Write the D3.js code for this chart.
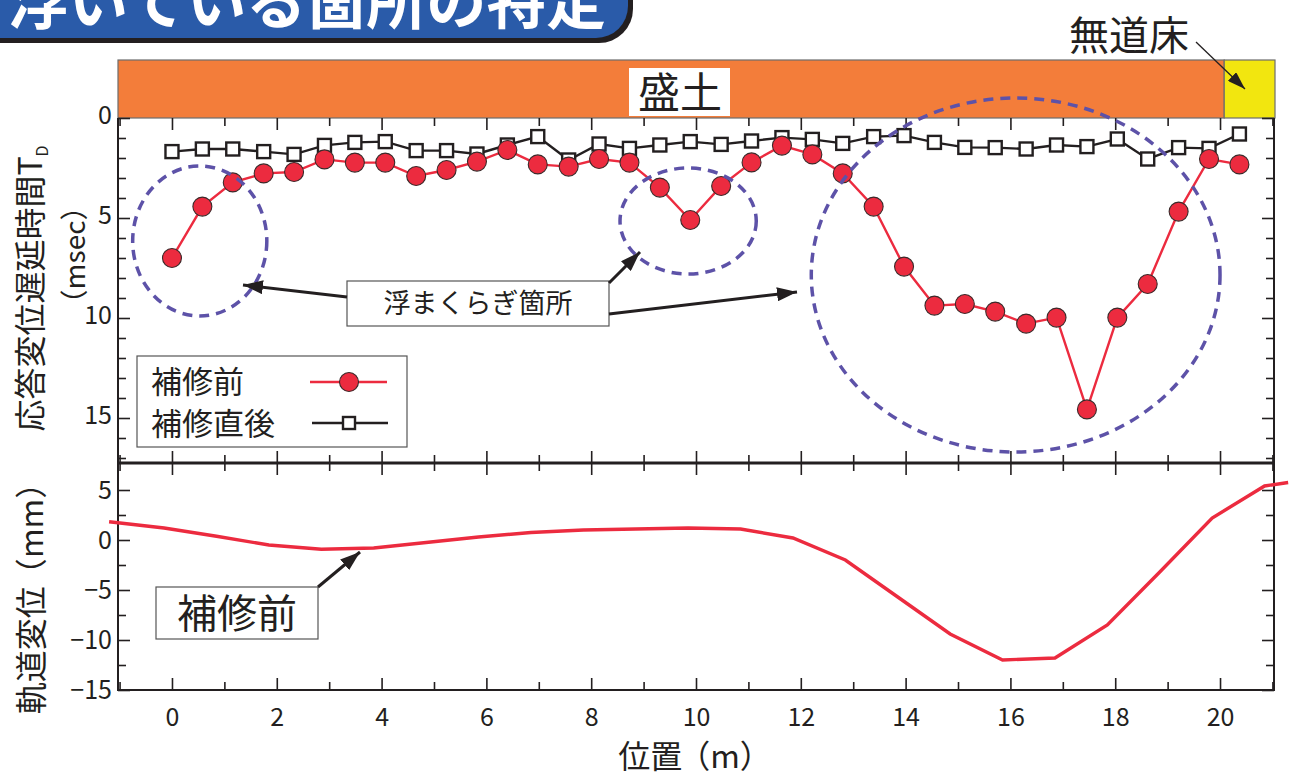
<!DOCTYPE html>
<html>
<head>
<meta charset="utf-8">
<script src="https://cdn.jsdelivr.net/npm/d3@7"></script>
<style>
  body { margin: 0; background: #fff; }
  svg { display: block; font-family: "Noto Sans CJK JP", "Noto Sans", sans-serif; }
</style>
</head>
<body>
<svg id="chart" width="1296" height="778"></svg>
<script>
// sensor positions (m)
const positions = [0, 0.58, 1.16, 1.75, 2.33, 2.91, 3.49, 4.07, 4.66, 5.24, 5.82, 6.40,
  6.98, 7.57, 8.15, 8.73, 9.31, 9.89, 10.48, 11.06, 11.64, 12.22, 12.80, 13.39,
  13.97, 14.55, 15.13, 15.71, 16.30, 16.88, 17.46, 18.04, 18.62, 19.21, 19.79, 20.37];

// response delay time T_D (msec)
const beforeRepair = [7.0, 4.43, 3.22, 2.77, 2.7, 2.07, 2.23, 2.23, 2.9, 2.6, 2.18, 1.6,
  2.32, 2.43, 2.05, 2.23, 3.48, 5.1, 3.4, 2.22, 1.38, 1.82, 2.77, 4.43,
  7.43, 9.38, 9.3, 9.68, 10.28, 9.98, 14.57, 9.98, 8.3, 4.68, 2.05, 2.32];
const afterRepair = [1.68, 1.55, 1.55, 1.68, 1.82, 1.37, 1.22, 1.18, 1.63, 1.63, 1.8, 1.35,
  0.93, 2.1, 1.3, 1.52, 1.35, 1.18, 1.32, 1.15, 0.98, 1.07, 1.27, 0.93,
  0.88, 1.22, 1.47, 1.48, 1.55, 1.35, 1.43, 1.05, 2.05, 1.48, 1.52, 0.8];

// track displacement before repair (mm)
const trackX = [-1.2, -0.15, 0.85, 1.85, 2.85, 3.85, 4.85, 5.85, 6.85, 7.85, 8.85, 9.85,
  10.85, 11.85, 12.85, 13.85, 14.85, 15.85, 16.85, 17.85, 18.85, 19.85, 20.85, 21.3];
const trackY = [1.83, 1.2, 0.37, -0.5, -0.93, -0.8, -0.25, 0.3, 0.75, 1.0, 1.1, 1.2,
  1.1, 0.2, -2.0, -5.7, -9.4, -12.0, -11.8, -8.5, -3.2, 2.2, 5.4, 5.75];

const xTicks = [0, 2, 4, 6, 8, 10, 12, 14, 16, 18, 20];
const topTicks = [0, 5, 10, 15];
const bottomTicks = [5, 0, -5, -10, -15];
const zoneBoundary = 20.08; // 盛土 / 無道床

// floating sleeper areas (data units)
const floatAreas = [
  { cx: 0.53, cy: 6.15, rx: 1.28, ry: 3.75 },
  { cx: 9.85, cy: 5.15, rx: 1.3, ry: 2.65 },
  { cx: 16.1, cy: 7.85, rx: 3.9, ry: 8.85 }
];

const left = 118, right = 1274;
const topY0 = 118, midY = 463, botY = 690;

const svg = d3.select("#chart");

const x = d3.scaleLinear().domain([-1.03, 21.03]).range([left, right]);
const yTop = d3.scaleLinear().domain([0, 17.25]).range([topY0, midY]);
const yBot = d3.scaleLinear().domain([-15, 7.7]).range([botY, midY]);

const red = "#ec2b3f";
const ink = "#231f20";

const defs = svg.append("defs");
defs.append("marker")
  .attr("id", "head")
  .attr("viewBox", "0 0 20 14")
  .attr("refX", 20).attr("refY", 7)
  .attr("markerWidth", 20).attr("markerHeight", 14)
  .attr("markerUnits", "userSpaceOnUse")
  .attr("orient", "auto")
  .append("path").attr("d", "M0,0 L20,7 L0,14 z").attr("fill", ink);
defs.append("marker")
  .attr("id", "headSmall")
  .attr("viewBox", "0 0 18 12")
  .attr("refX", 18).attr("refY", 6)
  .attr("markerWidth", 18).attr("markerHeight", 12)
  .attr("markerUnits", "userSpaceOnUse")
  .attr("orient", "auto")
  .append("path").attr("d", "M0,0 L18,6 L0,12 z").attr("fill", ink);

// title bar (cut at the top of the picture)
svg.append("rect").attr("x", -40).attr("y", -40).attr("width", 673).attr("height", 83)
  .attr("rx", 34).attr("fill", ink);
svg.append("rect").attr("x", -40).attr("y", -40).attr("width", 668).attr("height", 78)
  .attr("rx", 32).attr("fill", "#2a5ba9");
svg.append("text").attr("x", 8).attr("y", 24)
  .attr("font-size", 60).attr("font-weight", 700).attr("fill", "#fff")
  .text("浮いている箇所の特定");

// zone bar
svg.append("rect").attr("x", x(-1.03)).attr("y", 60)
  .attr("width", x(zoneBoundary) - x(-1.03)).attr("height", topY0 - 60)
  .attr("fill", "#f37d3a").attr("stroke", "#6d6d6d").attr("stroke-width", 1.2);
svg.append("rect").attr("x", x(zoneBoundary)).attr("y", 60)
  .attr("width", x(21.03) - x(zoneBoundary) + 1).attr("height", topY0 - 60)
  .attr("fill", "#f2e60f").attr("stroke", "#6d6d6d").attr("stroke-width", 1.2);
svg.append("rect").attr("x", 629).attr("y", 68).attr("width", 101).attr("height", 48).attr("fill", "#fff");
svg.append("text").attr("x", 680).attr("y", 108).attr("text-anchor", "middle")
  .attr("font-size", 42).attr("fill", ink).text("盛土");
svg.append("text").attr("x", 1129).attr("y", 50).attr("text-anchor", "middle")
  .attr("font-size", 40).attr("fill", ink).text("無道床");
svg.append("line").attr("x1", 1196).attr("y1", 42).attr("x2", 1245).attr("y2", 89)
  .attr("stroke", ink).attr("stroke-width", 1.3).attr("marker-end", "url(#headSmall)");

// axes helper
function drawAxis(axis, tx, ty, labels) {
  const g = svg.append("g").attr("transform", `translate(${tx},${ty})`).call(axis);
  g.select(".domain").remove();
  g.selectAll(".tick line").attr("stroke", ink).attr("stroke-width", 1.6);
  g.selectAll(".tick text").attr("fill", ink).attr("font-size", 25)
    .attr("font-family", "'Noto Sans CJK JP', sans-serif");
  if (!labels) g.selectAll(".tick text").remove();
  return g;
}

const xMinor = d3.range(-1, 22).filter(v => v % 2 !== 0);

// top panel ticks
drawAxis(d3.axisTop(x).tickValues(xTicks).tickSize(-12), 0, topY0, false);
drawAxis(d3.axisTop(x).tickValues(xMinor).tickSize(-8), 0, topY0, false);
drawAxis(d3.axisBottom(x).tickValues(xTicks).tickSize(-12), 0, midY, false);
drawAxis(d3.axisBottom(x).tickValues(xMinor).tickSize(-8), 0, midY, false);
drawAxis(d3.axisLeft(yTop).tickValues(topTicks).tickSize(-12).tickPadding(6), left, 0, true)
  .selectAll(".tick text").attr("dy", "0.2em");
drawAxis(d3.axisLeft(yTop).tickValues(d3.range(1, 18).filter(v => v % 5 !== 0)).tickSize(-8), left, 0, false);
drawAxis(d3.axisRight(yTop).tickValues(topTicks).tickSize(-12), right, 0, false);
drawAxis(d3.axisRight(yTop).tickValues(d3.range(1, 18).filter(v => v % 5 !== 0)).tickSize(-8), right, 0, false);

// bottom panel ticks
drawAxis(d3.axisTop(x).tickValues(xTicks).tickSize(-12), 0, midY, false);
drawAxis(d3.axisTop(x).tickValues(xMinor).tickSize(-8), 0, midY, false);
drawAxis(d3.axisBottom(x).tickValues(xTicks).tickSize(-12).tickPadding(18), 0, botY, true);
drawAxis(d3.axisBottom(x).tickValues(xMinor).tickSize(-8), 0, botY, false);
const botMinor = [2.5, -2.5, -7.5, -12.5];
drawAxis(d3.axisLeft(yBot).tickValues(bottomTicks).tickSize(-12).tickPadding(6), left, 0, true);
drawAxis(d3.axisLeft(yBot).tickValues(botMinor).tickSize(-8), left, 0, false);
drawAxis(d3.axisRight(yBot).tickValues(bottomTicks).tickSize(-12), right, 0, false);
drawAxis(d3.axisRight(yBot).tickValues(botMinor).tickSize(-8), right, 0, false);

// frame
svg.append("line").attr("x1", left).attr("x2", left).attr("y1", topY0).attr("y2", botY + 1)
  .attr("stroke", ink).attr("stroke-width", 2);
svg.append("line").attr("x1", right).attr("x2", right).attr("y1", topY0).attr("y2", botY + 1)
  .attr("stroke", ink).attr("stroke-width", 2);
svg.append("line").attr("x1", left).attr("x2", right).attr("y1", midY).attr("y2", midY)
  .attr("stroke", ink).attr("stroke-width", 3);
svg.append("line").attr("x1", left).attr("x2", right).attr("y1", botY).attr("y2", botY)
  .attr("stroke", ink).attr("stroke-width", 2);

// axis titles
svg.append("text")
  .attr("transform", `translate(42,${(yTop(0) + yTop(17.25)) / 2 - 2}) rotate(-90)`)
  .attr("text-anchor", "middle").attr("font-size", 32).attr("fill", ink)
  .html('応答変位遅延時間T<tspan font-size="16" dy="6">D</tspan>');
svg.append("text")
  .attr("transform", `translate(85,255) rotate(-90)`)
  .attr("text-anchor", "middle").attr("font-size", 28).attr("fill", ink)
  .text("（msec）");
svg.append("text")
  .attr("transform", `translate(43,${(midY + botY) / 2 + 14}) rotate(-90)`)
  .attr("text-anchor", "middle").attr("font-size", 32).attr("fill", ink)
  .html('軌道変位<tspan dx="-4">（mm）</tspan>');
svg.append("text").attr("x", 695).attr("y", 768).attr("text-anchor", "middle")
  .attr("font-size", 32).attr("fill", ink)
  .html('位置<tspan dx="-4">（m）</tspan>');

// series
const before = positions.map((p, i) => ({ x: p, y: beforeRepair[i] }));
const after = positions.map((p, i) => ({ x: p, y: afterRepair[i] }));
const lineTop = d3.line().x(d => x(d.x)).y(d => yTop(d.y));

svg.append("path").datum(after).attr("d", lineTop)
  .attr("fill", "none").attr("stroke", ink).attr("stroke-width", 2.4);
svg.append("path").datum(before).attr("d", lineTop)
  .attr("fill", "none").attr("stroke", red).attr("stroke-width", 2.4);

svg.selectAll(".sq").data(after).enter().append("rect")
  .attr("class", "sq")
  .attr("x", d => x(d.x) - 6.5).attr("y", d => yTop(d.y) - 6.5)
  .attr("width", 13).attr("height", 13)
  .attr("fill", "#fff").attr("stroke", ink).attr("stroke-width", 2.4);
svg.selectAll(".dot").data(before).enter().append("circle")
  .attr("class", "dot")
  .attr("cx", d => x(d.x)).attr("cy", d => yTop(d.y)).attr("r", 9.5)
  .attr("fill", red).attr("stroke", "#3a2a2a").attr("stroke-width", 1.1);

// floating sleeper ellipses
svg.selectAll(".area").data(floatAreas).enter().append("ellipse")
  .attr("class", "area")
  .attr("cx", d => x(d.cx)).attr("cy", d => yTop(d.cy))
  .attr("rx", d => x(d.rx) - x(0)).attr("ry", d => yTop(d.ry) - yTop(0))
  .attr("fill", "none").attr("stroke", "#5d52a8").attr("stroke-width", 3.5)
  .attr("stroke-dasharray", "10 7");

// annotation box
svg.append("rect").attr("x", 347).attr("y", 281).attr("width", 262).attr("height", 45)
  .attr("fill", "#fff").attr("stroke", "#555").attr("stroke-width", 1.2);
svg.append("text").attr("x", 478).attr("y", 313).attr("text-anchor", "middle")
  .attr("font-size", 27).attr("fill", ink).text("浮まくらぎ箇所");
[[347, 297, 243, 285], [609, 283, 640, 252], [609, 314, 797, 292]].forEach(a => {
  svg.append("line").attr("x1", a[0]).attr("y1", a[1]).attr("x2", a[2]).attr("y2", a[3])
    .attr("stroke", ink).attr("stroke-width", 3).attr("marker-end", "url(#head)");
});

// legend
svg.append("rect").attr("x", 137).attr("y", 356).attr("width", 270).attr("height", 91)
  .attr("fill", "#fff").attr("stroke", "#555").attr("stroke-width", 1.2);
svg.append("text").attr("x", 151).attr("y", 393).attr("font-size", 31).attr("fill", ink).text("補修前");
svg.append("text").attr("x", 151).attr("y", 435).attr("font-size", 31).attr("fill", ink).text("補修直後");
svg.append("line").attr("x1", 310).attr("x2", 387).attr("y1", 382).attr("y2", 382)
  .attr("stroke", red).attr("stroke-width", 2.4);
svg.append("circle").attr("cx", 349).attr("cy", 382).attr("r", 9.5)
  .attr("fill", red).attr("stroke", "#3a2a2a").attr("stroke-width", 1.1);
svg.append("line").attr("x1", 312).attr("x2", 388).attr("y1", 423).attr("y2", 423)
  .attr("stroke", ink).attr("stroke-width", 2.4);
svg.append("rect").attr("x", 343).attr("y", 417).attr("width", 12).attr("height", 12)
  .attr("fill", "#fff").attr("stroke", ink).attr("stroke-width", 2.4);

// track displacement line
const track = trackX.map((v, i) => ({ x: v, y: trackY[i] }));
svg.append("path").datum(track)
  .attr("d", d3.line().x(d => x(d.x)).y(d => yBot(d.y)))
  .attr("fill", "none").attr("stroke", red).attr("stroke-width", 3.4);

svg.append("rect").attr("x", 156).attr("y", 587).attr("width", 162).attr("height", 52)
  .attr("fill", "#fff").attr("stroke", "#555").attr("stroke-width", 1.2);
svg.append("text").attr("x", 237).attr("y", 628).attr("text-anchor", "middle")
  .attr("font-size", 40).attr("fill", ink).text("補修前");
svg.append("line").attr("x1", 318).attr("y1", 587).attr("x2", 360).attr("y2", 552)
  .attr("stroke", ink).attr("stroke-width", 3).attr("marker-end", "url(#head)");
</script>
</body>
</html>
